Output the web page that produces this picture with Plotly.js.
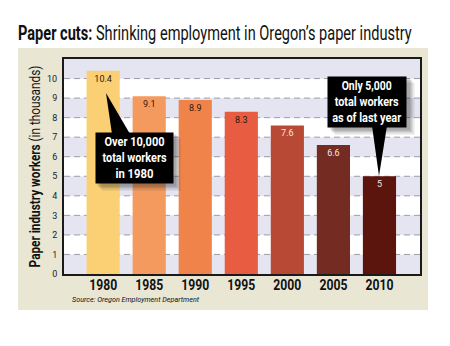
<!DOCTYPE html>
<html>
<head>
<meta charset="utf-8">
<script src="https://cdn.plot.ly/plotly-3.0.1.min.js"></script>
<style>html,body{margin:0;padding:0;background:#fff;}#chart{width:450px;height:346px;}</style>
</head>
<body>
<div id="chart"></div>
<script>
// ---- data ----
const years = ['1980', '1985', '1990', '1995', '2000', '2005', '2010'];
const workers = [10.4, 9.1, 8.9, 8.3, 7.6, 6.6, 5];
const yTickValues = [0, 1, 2, 3, 4, 5, 6, 7, 8, 9, 10];
const titleBold = 'Paper cuts:';
const titleRest = 'Shrinking employment in Oregon’s paper industry';
const yTitleBold = 'Paper industry workers';
const yTitleRest = '(in thousands)';
const sourceText = 'Source: Oregon Employment Department';
const callout1980 = ['Over 10,000', 'total workers', 'in 1980'];
const callout2010 = ['Only 5,000', 'total workers', 'as of last year'];

// ---- styles ----
const barColors = ['#fbd074', '#f49a5e', '#f0834a', '#e85c42', '#b84a35', '#742c22', '#5c150d'];
const labelColors = ['#2a1a10', '#2a1a10', '#2a1a10', '#2a1a10', '#f4e8e0', '#f4e8e0', '#f4e8e0'];
const FONT = 'Roboto, "Liberation Sans", sans-serif';
const LAV = '#e5e5f1';
const BEIGE = '#e9e6d4';
// target rendered widths (px) to mimic the condensed typeface
const titleWidth = 394;
const yTitleWidth = 202;
const xTickWidth = 28;
const sourceWidth = 127;
const callout1980Widths = [60, 64, 38];
const callout2010Widths = [50, 64, 69];

const yMax = 11;

const shapes = [];
shapes.push({type: 'rect', xref: 'paper', yref: 'paper', x0: -0.129, x1: 1.0225, y0: -0.1674, y1: 1.051,
  fillcolor: BEIGE, line: {width: 0}, layer: 'below'});
for (let v = 0; v < yMax; v++) {
  shapes.push({type: 'rect', xref: 'paper', yref: 'y', x0: 0, x1: 1, y0: v, y1: v + 1,
    fillcolor: (v % 2 === 0) ? LAV : '#ffffff', line: {width: 0}, layer: 'below'});
}
yTickValues.filter(v => v > 0).forEach(v => {
  shapes.push({type: 'line', xref: 'paper', yref: 'y', x0: 0, x1: 1, y0: v, y1: v,
    line: {color: '#9c9cac', width: 1, dash: '6px,4px'}, layer: 'below'});
});
function shadow(x0, x1, y0, y1) {
  [[6, 0.07], [4.5, 0.1], [3, 0.13], [1.5, 0.16]].forEach(([o, a]) => {
    shapes.push({type: 'rect', xref: 'paper', yref: 'paper',
      x0: x0 + o / 356, x1: x1 + (o + 2) / 356, y0: y0 - (o + 2) / 215, y1: y1 - o / 215,
      fillcolor: 'rgba(40,40,40,' + a + ')', line: {width: 0}, layer: 'above'});
  });
}
shadow(0.0899, 0.306, 0.423, 0.656);
shadow(0.744, 0.963, 0.684, 0.916);
shapes.push({type: 'path', xref: 'paper', yref: 'paper',
  path: 'M 0.118 0.842 L 0.1348 0.651 L 0.1854 0.651 Z', fillcolor: '#000', line: {width: 0}, layer: 'above'});
shapes.push({type: 'path', xref: 'paper', yref: 'paper',
  path: 'M 0.8848 0.4558 L 0.8652 0.69 L 0.9073 0.69 Z', fillcolor: '#000', line: {width: 0}, layer: 'above'});

const annotations = [
  {xref: 'paper', yref: 'paper', x: 0.198, y: 0.5395, xanchor: 'center', yanchor: 'middle',
   text: callout1980.map(s => '<b>' + s + '</b>').join('<br>'), showarrow: false,
   bgcolor: '#000', width: 73, height: 46, borderpad: 2,
   font: {family: FONT, size: 12, color: '#fff'}},
  {xref: 'paper', yref: 'paper', x: 0.8511, y: 0.8, xanchor: 'center', yanchor: 'middle',
   text: callout2010.map(s => '<b>' + s + '</b>').join('<br>'), showarrow: false,
   bgcolor: '#000', width: 74, height: 46, borderpad: 2,
   font: {family: FONT, size: 12, color: '#fff'}},
  {xref: 'paper', yref: 'paper', x: -0.003, y: -0.117, xanchor: 'left', yanchor: 'middle',
   text: '<i>' + sourceText + '</i>', showarrow: false,
   font: {family: FONT, size: 8, color: '#111'}}
];

const trace = {
  type: 'bar', x: years, y: workers,
  marker: {color: barColors, line: {width: 0}},
  width: 0.72,
  text: workers.map(String),
  textposition: 'inside', insidetextanchor: 'end', textangle: 0,
  constraintext: 'none',
  textfont: {family: FONT, size: 9, color: labelColors},
  hoverinfo: 'x+y'
};

const layout = {
  width: 450, height: 346,
  margin: {l: 64, r: 30, t: 59, b: 72, pad: 0},
  paper_bgcolor: '#ffffff', plot_bgcolor: LAV,
  showlegend: false,
  title: {
    text: '<b>' + titleBold + '</b> ' + titleRest,
    x: 18 / 450, xanchor: 'left', xref: 'container',
    y: 1 - 33 / 346, yanchor: 'middle', yref: 'container',
    font: {family: FONT, size: 20, color: '#111'}
  },
  xaxis: {
    type: 'category', range: [-0.85, 6.88], fixedrange: true,
    showgrid: false, zeroline: false,
    showline: true, linecolor: '#1a1a1a', linewidth: 2, mirror: true,
    ticks: '', ticklabelstandoff: -3,
    tickfont: {family: FONT, size: 14, color: '#111', weight: 'bold'}
  },
  yaxis: {
    range: [0, yMax], fixedrange: true,
    tickvals: yTickValues, ticktext: yTickValues.map(String),
    showgrid: false, zeroline: false,
    showline: true, linecolor: '#1a1a1a', linewidth: 2, mirror: true,
    ticks: '', ticklabelstandoff: 3,
    tickfont: {family: FONT, size: 9, color: '#222'},
    title: {text: '<b>' + yTitleBold + '</b> ' + yTitleRest, standoff: 3,
      font: {family: FONT, size: 14, color: '#111'}}
  },
  shapes: shapes,
  annotations: annotations,
  bargap: 0.28
};

function squeeze(el, width) {
  if (!el) return;
  el.setAttribute('textLength', width);
  el.setAttribute('lengthAdjust', 'spacingAndGlyphs');
}
// horizontal compression by transform, anchored at the text's own x/y
function condense(el, width) {
  if (!el) return;
  const w = el.getComputedTextLength();
  if (!w) return;
  const f = width / w;
  const x = parseFloat(el.getAttribute('x')) || 0;
  const y = parseFloat(el.getAttribute('y')) || 0;
  const prev = el.getAttribute('transform') || '';
  el.setAttribute('transform', prev + ' translate(' + x + ',' + y + ') scale(' + f + ',1) translate(' + (-x) + ',' + (-y) + ')');
}

Plotly.newPlot('chart', [trace], layout, {displayModeBar: false, staticPlot: true}).then(gd => {
  condense(gd.querySelector('.gtitle'), titleWidth);
  condense(gd.querySelector('.ytitle'), yTitleWidth);
  gd.querySelectorAll('.xtick text').forEach(t => squeeze(t, xTickWidth));
  const ann = gd.querySelectorAll('.annotation-text');
  [callout1980Widths, callout2010Widths].forEach((ws, i) => {
    const lines = ann[i] ? ann[i].querySelectorAll('tspan.line') : [];
    lines.forEach((ln, j) => squeeze(ln, ws[j]));
  });
  squeeze(ann[2], sourceWidth);
});
</script>
</body>
</html>
